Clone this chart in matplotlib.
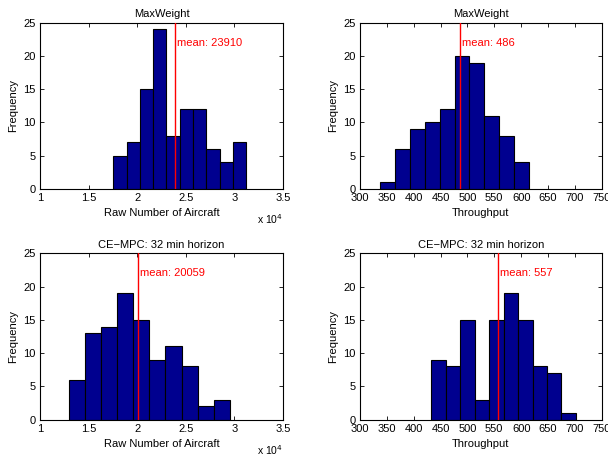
import matplotlib
matplotlib.use("Agg")
import matplotlib.pyplot as plt
import numpy as np

plt.rcParams['font.family'] = ['Liberation Sans', 'DejaVu Sans']

# ---- data ----
titles = ["MaxWeight", "MaxWeight", "CE\u2212MPC: 32 min horizon", "CE\u2212MPC: 32 min horizon"]
xlabels = ["Raw Number of Aircraft", "Throughput", "Raw Number of Aircraft", "Throughput"]

tl_start, tl_width = 17530, 1370
tl_counts = [5, 7, 15, 24, 8, 12, 12, 6, 4, 7]
tl_mean = 23910

tr_start, tr_width = 337, 27.8
tr_counts = [1, 6, 9, 10, 12, 20, 19, 11, 8, 4]
tr_mean = 486

bl_start, bl_width = 12980, 1654
bl_counts = [6, 13, 14, 19, 15, 9, 11, 8, 2, 3]
bl_mean = 20059

br_start, br_width = 433, 26.9
br_counts = [9, 8, 15, 3, 15, 19, 15, 8, 7, 1]
br_mean = 557

air_ticks = [10000, 15000, 20000, 25000, 30000, 35000]
air_tick_labels = ["1", "1.5", "2", "2.5", "3", "3.5"]
thr_ticks = [300, 350, 400, 450, 500, 550, 600, 650, 700, 750]
y_ticks = [0, 5, 10, 15, 20, 25]

panels = [
    (tl_start, tl_width, tl_counts, tl_mean, "air"),
    (tr_start, tr_width, tr_counts, tr_mean, "thr"),
    (bl_start, bl_width, bl_counts, bl_mean, "air"),
    (br_start, br_width, br_counts, br_mean, "thr"),
]

W, H = 608, 459
fig = plt.figure(figsize=(W / 100, H / 100), dpi=100)

# axes rectangles in pixel coords (left, top, right, bottom)
rects = [
    (40, 22.7, 283, 188.7),
    (360, 22.7, 601.7, 188.7),
    (40, 253.3, 283, 419.7),
    (360, 253.3, 601.7, 419.7),
]

fs = 8
navy = (0, 0, 0.5625)

for i, ((start, width, counts, mean, kind), (l, t, r, b)) in enumerate(zip(panels, rects)):
    ax = fig.add_axes([l / W, 1 - b / H, (r - l) / W, (b - t) / H])
    n = len(counts)
    edges = start + width * np.arange(n)
    ax.bar(edges, counts, width=width, align='edge', color=navy,
           edgecolor='black', linewidth=0.8, zorder=2)
    ax.axvline(mean, color='red', linewidth=1.0, zorder=3)
    ax.set_ylim(0, 25)
    ax.set_yticks(y_ticks)
    if kind == "air":
        ax.set_xlim(10000, 35000)
        ax.set_xticks(air_ticks)
        ax.set_xticklabels(air_tick_labels)
        ax.text(1.0, -0.185, "x 10$^{4}$", transform=ax.transAxes, ha='right',
                va='center', fontsize=fs - 0.5)
        off = 180
    else:
        ax.set_xlim(300, 750)
        ax.set_xticks(thr_ticks)
        off = 3.2
    ax.text(mean + off, 22, "mean: %d" % mean, color='red', fontsize=fs,
            va='center', ha='left')
    ax.set_title(titles[i], fontsize=fs, pad=4)
    ax.set_xlabel(xlabels[i], fontsize=fs, labelpad=4)
    ax.set_ylabel("Frequency", fontsize=fs, labelpad=4)
    ax.tick_params(direction='in', length=3, width=0.6, top=True, right=True,
                   labelsize=fs, pad=3)
    for s in ax.spines.values():
        s.set_linewidth(0.8)

fig.savefig("out.png", dpi=100)
